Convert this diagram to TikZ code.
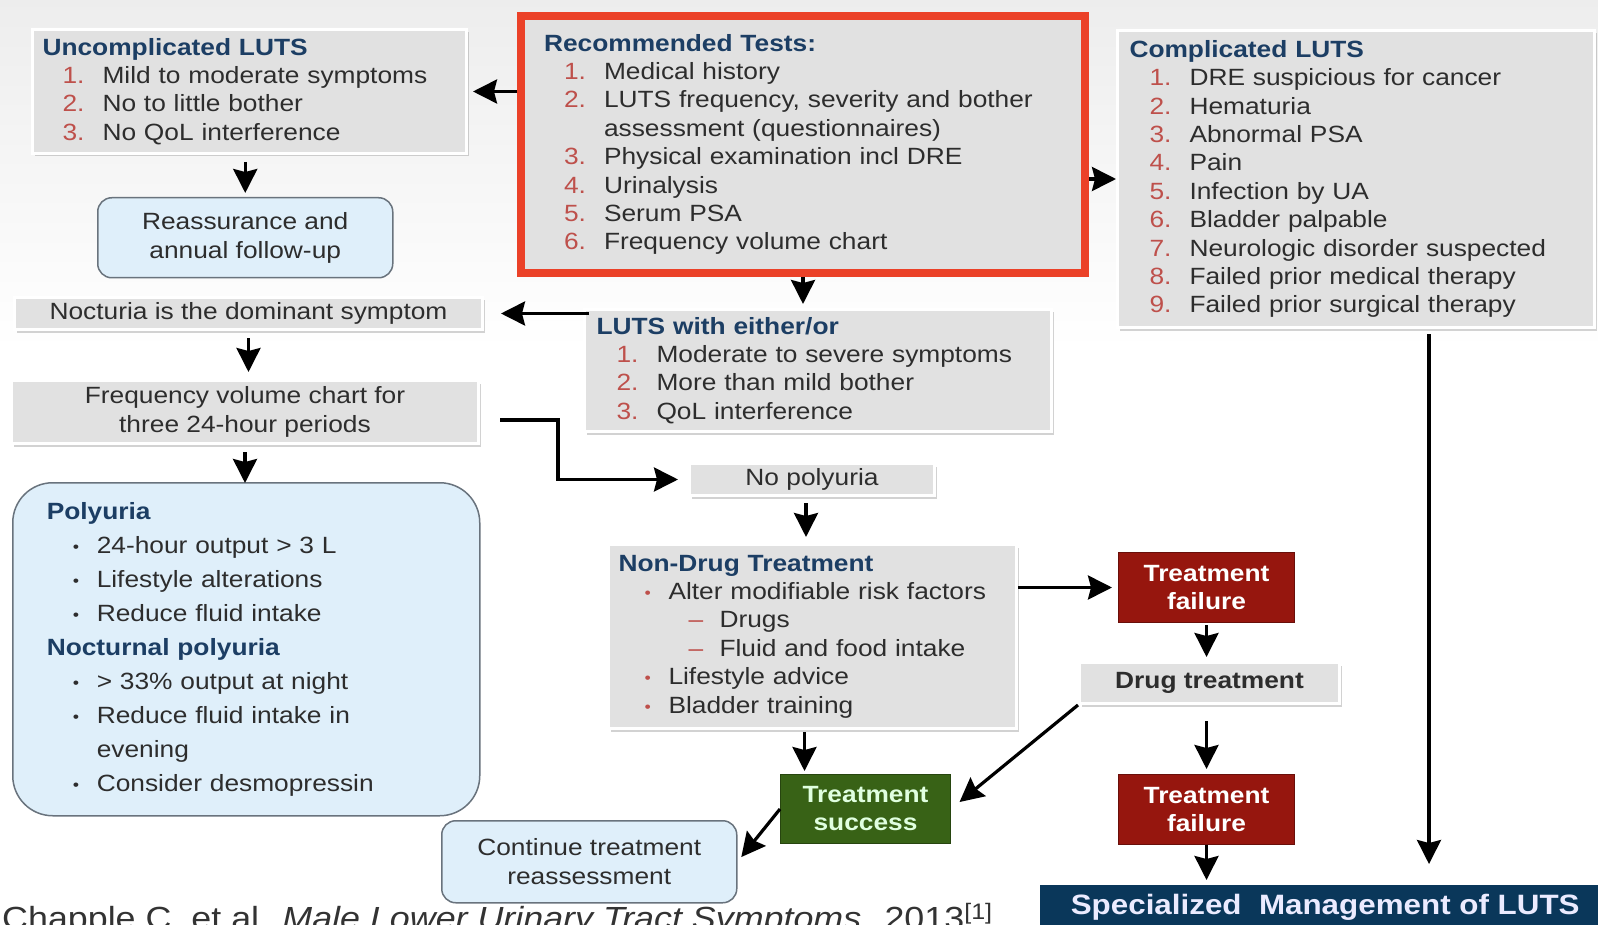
\documentclass[tikz,border=0pt]{standalone}
\usepackage{fontspec}
\setmainfont[FakeStretch=1.12]{Liberation Sans}
\usepackage{xcolor}
\usepackage{tikz}
\usetikzlibrary{arrows.meta, positioning, shadows}

\definecolor{boxgray}{RGB}{225,225,225}
\definecolor{titleblue}{RGB}{28,62,100}
\definecolor{numred}{RGB}{190,80,75}
\definecolor{textgray}{RGB}{45,45,45}
\definecolor{paleblue}{RGB}{223,239,250}
\definecolor{edgegray}{RGB}{105,115,125}
\definecolor{framered}{RGB}{235,65,40}
\definecolor{failred}{RGB}{150,22,14}
\definecolor{okgreen}{RGB}{56,98,22}
\definecolor{navy}{RGB}{10,55,90}

\newcommand{\hd}[1]{\textbf{\textcolor{titleblue}{#1}}}
\newcommand{\numli}[2]{\hspace*{20pt}\makebox[40pt][l]{\textcolor{numred}{#1.}}#2}
\newcommand{\bul}[2][numred]{\hspace*{26pt}\makebox[24pt][l]{\textcolor{#1}{\raisebox{1pt}{\fontsize{16}{16}\selectfont •}}}#2}
\newcommand{\subli}[1]{\hspace*{70pt}\makebox[31pt][l]{\textcolor{numred}{–}}#1}

\begin{document}
\begin{tikzpicture}[x=1pt,y=-1pt,
      font=\fontsize{23.5}{28.4}\selectfont, text=textgray,
      box/.style={fill=boxgray,draw=white,line width=3pt,
                  drop shadow={shadow xshift=2pt,shadow yshift=-3pt,fill=gray,opacity=.35}},
      list/.style={anchor=north west,align=left,inner ysep=0pt},
      softbox/.style={fill=paleblue,draw=edgegray,line width=1.5pt,rounded corners=14pt,
                      anchor=north west,align=center},
      failbox/.style={fill=failred,draw=failred!70!black,line width=1pt,text=white,
                      font=\fontsize{23.5}{28}\selectfont\bfseries,anchor=north west,align=center},
      arr/.style={line width=3.2pt,-{Stealth[length=24pt,width=24pt,inset=3pt]}}]
    \useasboundingbox (0,0) rectangle (1598,925);
    \fill[white] (0,0) rectangle (1598,925);
    \shade[top color=gray!14,bottom color=white] (0,0) rectangle (1598,350);

    % top row
    \node[box,list,minimum width=434pt,minimum height=124pt,text width=414pt,inner xsep=10pt] (unc) at (31,28)
      {\hd{Uncomplicated LUTS}\\ \numli{1}{Mild to moderate symptoms}\\ \numli{2}{No to little bother}\\ \numli{3}{No QoL interference}};
    \node[list,fill=boxgray,draw=framered,line width=8pt,minimum width=564pt,minimum height=257pt,
          text width=518pt,inner xsep=23pt] (rec) at (517,12)
      {\hd{Recommended Tests:}\\ \numli{1}{Medical history}\\ \numli{2}{LUTS frequency, severity and bother}\\
       \hspace*{60pt}assessment (questionnaires)\\ \numli{3}{Physical examination incl DRE}\\
       \numli{4}{Urinalysis}\\ \numli{5}{Serum PSA}\\ \numli{6}{Frequency volume chart}};
    \node[box,list,minimum width=477pt,minimum height=297pt,text width=453pt,inner xsep=12pt] (comp) at (1116,29)
      {\hd{Complicated LUTS}\\ \numli{1}{DRE suspicious for cancer}\\ \numli{2}{Hematuria}\\ \numli{3}{Abnormal PSA}\\
       \numli{4}{Pain}\\ \numli{5}{Infection by UA}\\ \numli{6}{Bladder palpable}\\ \numli{7}{Neurologic disorder suspected}\\
       \numli{8}{Failed prior medical therapy}\\ \numli{9}{Failed prior surgical therapy}};

    % left column
    \node[softbox,minimum width=295pt,minimum height=80pt] (reas) at (97,197) {Reassurance and\\annual follow-up};
    \node[box,anchor=north west,minimum width=468pt,minimum height=32pt,inner sep=0pt] (noct) at (13,296)
      {Nocturia is the dominant symptom};
    \node[box,anchor=north west,align=center,minimum width=467pt,minimum height=63pt,inner sep=0pt] (freq) at (10,379)
      {Frequency volume chart for\\three 24-hour periods};
    \node[softbox,list,rounded corners=40pt,minimum width=467pt,minimum height=333pt,text width=399pt,inner xsep=34pt,
          font=\fontsize{23.5}{34}\selectfont] (poly) at (12,482)
      {\hd{Polyuria}\\ \bul[textgray]{24-hour output > 3 L}\\ \bul[textgray]{Lifestyle alterations}\\
       \bul[textgray]{Reduce fluid intake}\\ \hd{Nocturnal polyuria}\\ \bul[textgray]{> 33\% output at night}\\
       \bul[textgray]{Reduce fluid intake in}\\ \hspace*{50pt}evening\\ \bul[textgray]{Consider desmopressin}};

    % middle column
    \node[box,list,minimum width=467pt,minimum height=122pt,text width=443pt,inner xsep=12pt] (either) at (583,308)
      {\hd{LUTS with either/or}\\ \numli{1}{Moderate to severe symptoms}\\ \numli{2}{More than mild bother}\\ \numli{3}{QoL interference}};
    \node[box,anchor=north west,minimum width=245pt,minimum height=32pt,inner sep=0pt] (nopoly) at (688,462) {No polyuria};
    \node[box,list,minimum width=408pt,minimum height=184pt,text width=388pt,inner xsep=10pt] (nondrug) at (607,543)
      {\hd{Non-Drug Treatment}\\ \bul{Alter modifiable risk factors}\\ \subli{Drugs}\\ \subli{Fluid and food intake}\\
       \bul{Lifestyle advice}\\ \bul{Bladder training}};
    \node[failbox,fill=okgreen,draw=okgreen!70!black,text={green!12!white},minimum width=170pt,minimum height=69pt] (succ) at (780,774)
      {Treatment\\success};
    \node[softbox,minimum width=295pt,minimum height=82pt] (cont) at (441,820) {Continue treatment\\reassessment};

    % right column
    \node[failbox,minimum width=176pt,minimum height=70pt] (fail1) at (1118,552) {Treatment\\failure};
    \node[box,anchor=north west,minimum width=260pt,minimum height=41pt,inner sep=0pt,font=\fontsize{23.5}{28}\selectfont\bfseries]
      (drug) at (1078,661) {Drug treatment};
    \node[failbox,minimum width=176pt,minimum height=70pt] (fail2) at (1118,774) {Treatment\\failure};
    \node[anchor=north west,fill=navy,minimum width=570pt,minimum height=45pt,inner sep=0pt,text={blue!8!white},
          font=\fontsize{28}{30}\selectfont\bfseries] (spec) at (1040,885) {Specialized~ Management of LUTS};

    \node[anchor=base west,inner sep=0pt,text=black!80,font=\fontsize{32}{34}\selectfont] (cite) at (2,929)
      {Chapple C, et al. \textit{Male Lower Urinary Tract Symptoms}. 2013\textsuperscript{[1]}};

    % connectors
    \draw[arr,shorten >=5pt] (rec.west |- unc.east) -- (unc.east);
    \draw[arr] (rec.east |- comp.west) -- (comp.west);
    \draw[arr,shorten >=4pt] (rec.south) -- (rec.south |- either.north);
    \draw[arr,shorten <=7pt,shorten >=4pt] (unc.south -| reas.north) -- (reas.north);
    \draw[arr,shorten <=-6pt,shorten >=17pt] (either.west |- noct.east) -- (noct.east);
    \draw[arr,shorten <=7pt,shorten >=7pt] (noct.south) -- (noct.south |- freq.north);
    \draw[arr,shorten <=7pt,shorten >=-1pt] (freq.south) -- (freq.south |- poly.north);
    \draw[arr,shorten <=20pt,shorten >=10pt] ([yshift=-8pt]freq.east) -| ([xshift=-130pt]nopoly.west) -- (nopoly.west);
    \draw[arr,shorten <=6pt,shorten >=6pt] ([xshift=-6pt]nopoly.south) -- ([xshift=-6pt]nopoly.south |- nondrug.north);
    \draw[arr,shorten >=6pt] (nondrug.east |- fail1.west) -- (fail1.west);
    \draw[arr,shorten <=2pt,shorten >=3pt] ([xshift=-8pt]nondrug.south) -- ([xshift=-8pt]nondrug.south |- succ.north);
    \draw[arr,shorten <=2pt,shorten >=4pt] (fail1.south) -- (fail1.south |- drug.north);
    \draw[arr,shorten <=16pt,shorten >=5pt] (fail2.north |- drug.south) -- (fail2.north);
    \draw[arr,shorten >=5pt] (fail2.south) -- (fail2.south |- spec.north);
    \draw[arr,shorten <=5pt,shorten >=21pt] ([xshift=73pt]comp.south) -- ([xshift=73pt]comp.south |- spec.north);
    \draw[arr,shorten >=11pt] (drug.south west) -- (succ.east);
    \draw[arr,shorten >=6pt] (succ.west) -- (cont.east);
  \end{tikzpicture}
\end{document}
